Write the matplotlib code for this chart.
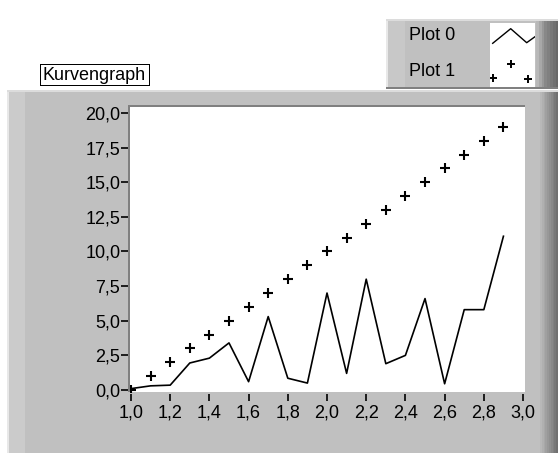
import matplotlib
matplotlib.use("Agg")
import matplotlib.pyplot as plt
from matplotlib.patches import Rectangle
from matplotlib.ticker import FuncFormatter

# Daten
x_werte = [1.0, 1.1, 1.2, 1.3, 1.4, 1.5, 1.6, 1.7, 1.8, 1.9,
           2.0, 2.1, 2.2, 2.3, 2.4, 2.5, 2.6, 2.7, 2.8, 2.9]
plot0 = [0.1, 0.3, 0.35, 1.95, 2.3, 3.4, 0.6, 5.3, 0.85, 0.5,
         7.0, 1.2, 8.0, 1.9, 2.5, 6.6, 0.45, 5.8, 5.8, 11.1]
plot1 = [0, 1, 2, 3, 4, 5, 6, 7, 8, 9,
         10, 11, 12, 13, 14, 15, 16, 17, 18, 19]
x_ticks = [1.0, 1.2, 1.4, 1.6, 1.8, 2.0, 2.2, 2.4, 2.6, 2.8, 3.0]
y_ticks = [0.0, 2.5, 5.0, 7.5, 10.0, 12.5, 15.0, 17.5, 20.0]
legend_namen = ["Plot 0", "Plot 1"]
titel = "Kurvengraph"

W, H = 558, 453
plt.rcParams["font.family"] = ["Liberation Sans", "DejaVu Sans"]
fig = plt.figure(figsize=(W / 100, H / 100), dpi=100, facecolor="white")
FS = 13


# Hilfsfunktion: Rechteck in Pixelkoordinaten (Ursprung oben links)
def rect_px(x0, y0, x1, y1, farbe, z=0):
    r = Rectangle((x0 / W, 1 - y1 / H), (x1 - x0) / W, (y1 - y0) / H,
                  transform=fig.transFigure, facecolor=farbe,
                  edgecolor="none", zorder=z)
    fig.patches.append(r)
    return r


# Grauer Rahmen des Graphen
rect_px(7, 90, W, H, "#c0c0c0")
rect_px(7, 90, 9, H, "#e8e8e8", 1)
rect_px(9, 92, 25, H, "#cbcbcb", 1)
rect_px(7, 90, W, 92, "#dcdcdc", 1)
for i, c in enumerate(["#b8b8b8", "#b0b0b0", "#a8a8a8", "#a0a0a0", "#989898",
                       "#909090", "#888888", "#808080", "#787878", "#707070"]):
    rect_px(540 + i * 1.8, 92, 541.8 + i * 1.8, H, c, 1)

# vertiefter Rand um den Plotbereich
rect_px(128, 105, 525, 392, "#808080", 1)

# Legende
rect_px(386, 19, W, 89, "#c0c0c0")
rect_px(386, 19, 388, 89, "#e8e8e8", 1)
rect_px(388, 21, 405, 87, "#c8c8c8", 1)
rect_px(386, 19, W, 21, "#dcdcdc", 1)
rect_px(386, 87, W, 89, "#808080", 1)
for i, c in enumerate(["#b8b8b8", "#a8a8a8", "#989898", "#888888", "#808080",
                       "#787878", "#707070", "#686868"]):
    rect_px(536 + i * 2.8, 21, 538.8 + i * 2.8, 87, c, 1)
rect_px(490, 23, 535, 87, "white", 2)
fig.text(409 / W, 1 - 36 / H, legend_namen[0], fontsize=FS, va="center", ha="left")
fig.text(409 / W, 1 - 72 / H, legend_namen[1], fontsize=FS, va="center", ha="left")

# Legendenmuster in eigener kleiner Achse
lax = fig.add_axes([490 / W, 1 - 87 / H, 45 / W, 64 / H])
lax.set_zorder(3)
lax.set_xlim(490, 535)
lax.set_ylim(87, 23)
lax.axis("off")
lax.plot([492.7, 510.7, 526.7, 535], [43.3, 28.7, 42.7, 36.7], color="black", lw=1.0)
lax.plot([493, 510.7, 528], [78, 64, 79], ls="none", marker="+", ms=6,
         mew=1.4, color="black")

# Beschriftung "Kurvengraph"
rect_px(40, 64, 150, 86, "black", 2)
rect_px(41, 65, 149, 85, "white", 2)
fig.text(42 / W, 1 - 75.5 / H, titel, fontsize=FS, va="center", ha="left", zorder=3)

# Plotbereich
ax = fig.add_axes([130 / W, 1 - 392 / H, 395 / W, 285 / H])
ax.set_facecolor("white")
ax.set_zorder(2)
ax.plot(x_werte, plot0, color="black", lw=1.2)
ax.plot(x_werte, plot1, ls="none", marker="+", ms=7, mew=1.5, color="black")
ax.set_xlim(0.995, 3.010)
ax.set_ylim(-0.144, 20.43)

ax.set_xticks(x_ticks)
ax.set_yticks(y_ticks)
komma = FuncFormatter(lambda v, p: f"{v:.1f}".replace(".", ","))
ax.xaxis.set_major_formatter(komma)
ax.yaxis.set_major_formatter(komma)
ax.tick_params(axis="both", direction="out", length=5, width=1.2,
               color="black", labelsize=FS, labelcolor="black")
ax.tick_params(axis="x", pad=2.5)
ax.tick_params(axis="y", pad=0.5)

for s in ["top", "right"]:
    ax.spines[s].set_visible(False)
for s in ["left", "bottom"]:
    ax.spines[s].set_color("none")
    ax.spines[s].set_position(("outward", 1.5))

fig.savefig("out.png", dpi=100, facecolor="white")
